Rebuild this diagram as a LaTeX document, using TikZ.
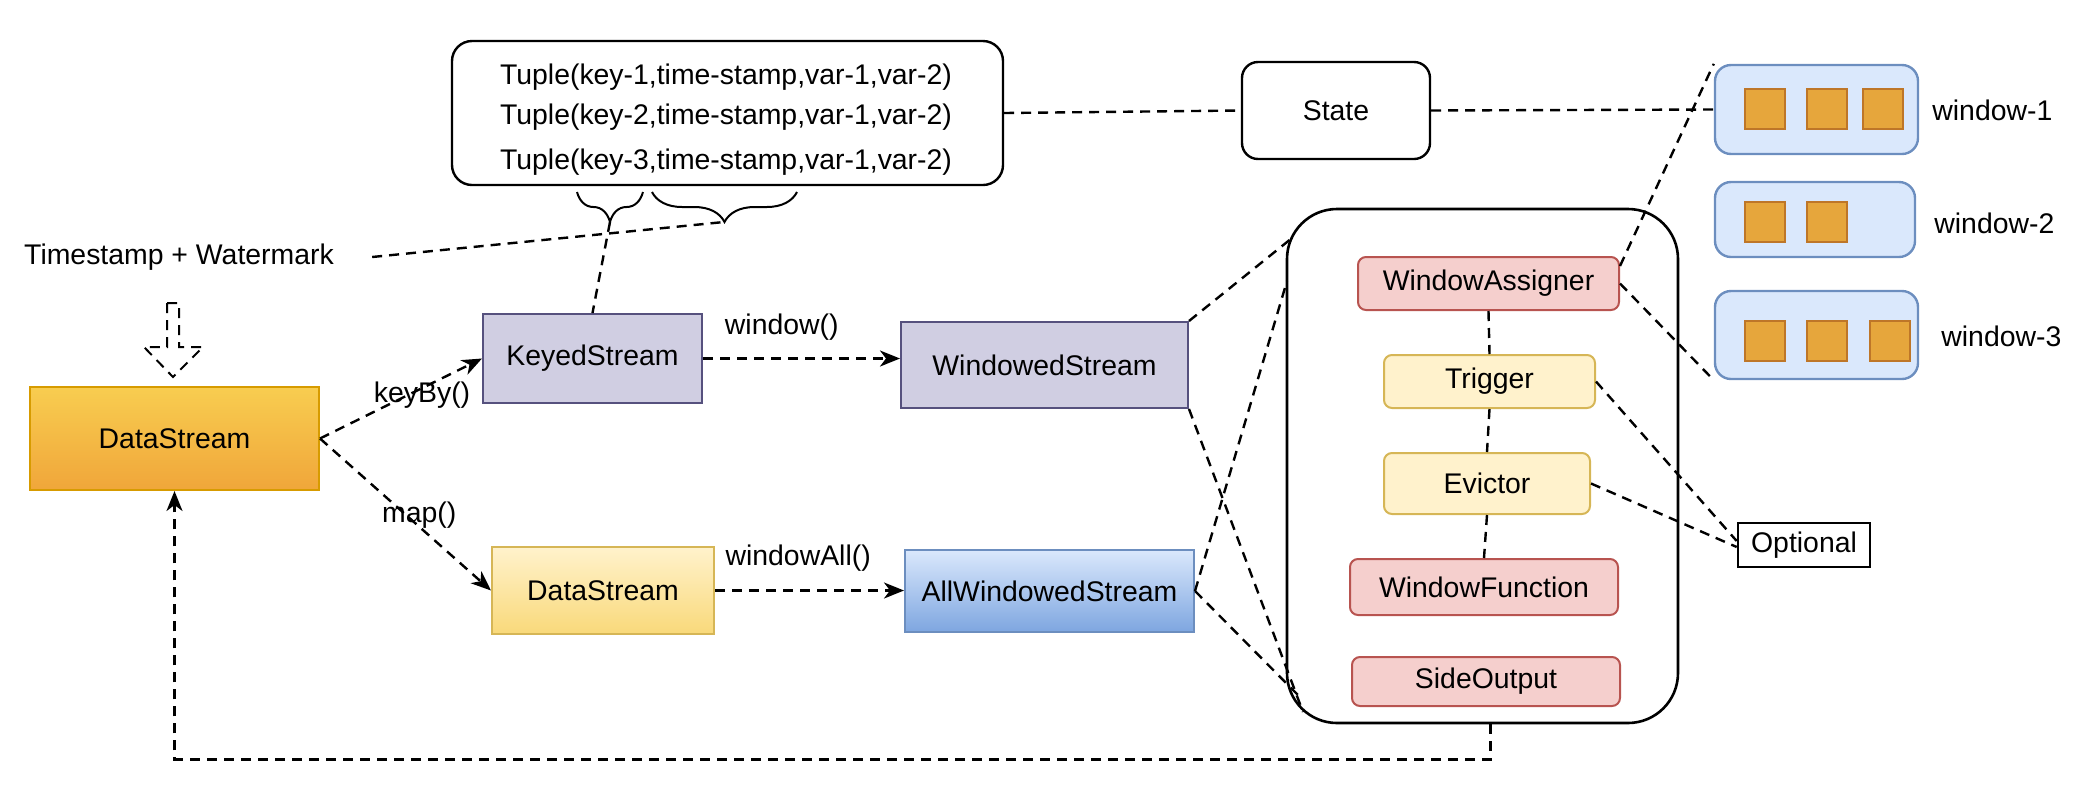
\documentclass[tikz,border=0pt]{standalone}
\usepackage{fontspec}
\setmainfont{Liberation Sans}
\usepackage{tikz}
\usetikzlibrary{arrows.meta,positioning,decorations.pathreplacing}
\usepackage{xcolor}
\definecolor{dsorangetop}{RGB}{248,205,80}
\definecolor{dsorangebot}{RGB}{240,166,58}
\definecolor{dsorangeline}{RGB}{215,155,0}
\definecolor{keyedfill}{RGB}{208,206,226}
\definecolor{keyedline}{RGB}{86,81,126}
\definecolor{dsyellowtop}{RGB}{255,242,204}
\definecolor{dsyellowbot}{RGB}{249,217,122}
\definecolor{dsyellowline}{RGB}{214,182,86}
\definecolor{allwintop}{RGB}{218,232,252}
\definecolor{allwinbot}{RGB}{126,166,224}
\definecolor{winline}{RGB}{108,142,191}
\definecolor{redfill}{RGB}{245,207,205}
\definecolor{redline}{RGB}{184,84,80}
\definecolor{yellowfill}{RGB}{255,242,204}
\definecolor{itemfill}{RGB}{230,166,60}
\definecolor{itemline}{RGB}{190,118,40}
\newcommand{\diagfont}{\fontsize{14.2pt}{17pt}\selectfont}
\tikzstyle{txt} = [inner sep=0pt, font=\diagfont]
\tikzstyle{stream} = [rectangle, inner sep=0pt, text centered, line width=1pt, font=\diagfont]
\tikzstyle{tuplebox} = [rectangle, rounded corners=10pt, draw=black, line width=1.2pt]
\tikzstyle{statebox} = [rectangle, rounded corners=8pt, draw=black, line width=1.2pt, font=\diagfont]
\tikzstyle{winbox} = [rectangle, rounded corners=8pt, draw=winline, fill=allwintop, line width=1.2pt]
\tikzstyle{item} = [rectangle, minimum width=20pt, minimum height=20pt, draw=itemline, fill=itemfill, line width=1pt]
\tikzstyle{container} = [rectangle, rounded corners=25pt, draw=black, line width=1.3pt]
\tikzstyle{redpart} = [rectangle, rounded corners=4pt, inner sep=0pt, draw=redline, fill=redfill, line width=1pt, font=\diagfont]
\tikzstyle{yellowpart} = [rectangle, rounded corners=4pt, inner sep=0pt, draw=dsyellowline, fill=yellowfill, line width=1pt, font=\diagfont]
\tikzstyle{link} = [line width=1.2pt, dash pattern=on 5pt off 3.5pt]
\tikzstyle{arrow} = [link, -{Stealth[length=10pt,width=8pt,inset=3pt]}]

\begin{document}
\begin{tikzpicture}[x=0.5pt, y=-0.5pt]
\useasboundingbox (0,0) rectangle (2090,794);

% Tuples and state
\node[tuplebox, minimum width=275.5pt, minimum height=72pt] (tuples) at (727.5,113) {};
\node[txt] (tup1) at (726,77) {Tuple(key-1,time-stamp,var-1,var-2)};
\node[txt] (tup2) at (726,117) {Tuple(key-2,time-stamp,var-1,var-2)};
\node[txt] (tup3) at (726,162) {Tuple(key-3,time-stamp,var-1,var-2)};
\node[statebox, minimum width=94pt, minimum height=48.5pt] (state) at (1336,110.5) {State};

% Braces under the tuples
\draw[line width=1pt, decorate, decoration={brace, mirror, amplitude=15pt}] (577,192) -- (643,192);
\draw[line width=1pt, decorate, decoration={brace, mirror, amplitude=15pt}] (652,192) -- (797,192);
\coordinate (ktip) at (610,222);
\coordinate (ttip) at (724,222);

% Windows
\node[winbox, minimum width=101.5pt, minimum height=44.5pt] (win1) at (1816.5,109.5) {};
\node[item] (w1a) at (1765,109) {};
\node[item] (w1b) at (1827,109) {};
\node[item] (w1c) at (1882.5,109) {};
\node[txt, anchor=west] (win1lbl) at (1932,110) {window-1};
\node[winbox, minimum width=100pt, minimum height=37.5pt] (win2) at (1815,219.5) {};
\node[item] (w2a) at (1765,221.5) {};
\node[item] (w2b) at (1827,221.5) {};
\node[txt, anchor=west] (win2lbl) at (1934,223) {window-2};
\node[winbox, minimum width=101.5pt, minimum height=44pt] (win3) at (1816.5,335) {};
\node[item] (w3a) at (1765,341) {};
\node[item] (w3b) at (1827,341) {};
\node[item] (w3c) at (1890,341) {};
\node[txt, anchor=west] (win3lbl) at (1941,336) {window-3};

% Timestamp + Watermark
\node[txt] (tsw) at (179,257) {Timestamp + Watermark};
\draw[line width=1pt, dash pattern=on 5pt off 3.5pt] (167,303) -- (179,303) -- (179,347) -- (203,347) -- (173,377) -- (144,347) -- (167,347) -- cycle;

% Streams
\node[stream, top color=dsorangetop, bottom color=dsorangebot, draw=dsorangeline, minimum width=144.5pt, minimum height=51.5pt] (ds) at (174.5,438.5) {DataStream};
\node[stream, fill=keyedfill, draw=keyedline, minimum width=109.5pt, minimum height=44.5pt] (keyed) at (592.5,358.5) {KeyedStream};
\node[stream, fill=keyedfill, draw=keyedline, minimum width=143.5pt, minimum height=43pt] (windowed) at (1044.5,365) {WindowedStream};
\node[stream, top color=dsyellowtop, bottom color=dsyellowbot, draw=dsyellowline, minimum width=111pt, minimum height=43.5pt] (ds2) at (603,590.5) {DataStream};
\node[stream, top color=allwintop, bottom color=allwinbot, draw=winline, minimum width=144.5pt, minimum height=41pt] (allwin) at (1049.5,591) {AllWindowedStream};

% Window operator
\node[container, minimum width=195.5pt, minimum height=257pt] (box) at (1482.5,466) {};
\node[redpart, minimum width=130.5pt, minimum height=26.5pt] (assigner) at (1488.5,283.5) {WindowAssigner};
\node[yellowpart, minimum width=105.5pt, minimum height=26.5pt] (trigger) at (1489.5,381.5) {Trigger};
\node[yellowpart, minimum width=103pt, minimum height=30.5pt] (evictor) at (1487,483.5) {Evictor};
\node[redpart, minimum width=134pt, minimum height=28pt] (wfunc) at (1484,587) {WindowFunction};
\node[redpart, minimum width=134pt, minimum height=24.5pt] (sideout) at (1486,681.5) {SideOutput};
\node[rectangle, draw=black, line width=1.3pt, inner sep=0pt, minimum width=66pt, minimum height=22pt, font=\diagfont] (optional) at (1804,545) {Optional};
\coordinate (c1) at (1292,238);
\coordinate (c2) at (1303,712);
\coordinate (c3) at (1287,281);
\coordinate (c4) at (1298,695);

% Arrows
\draw[arrow] (ds.east) -- node[txt, pos=0.63, yshift=-3.5pt] (keybylbl) {keyBy()} (keyed.west);
\draw[arrow] (ds.east) -- node[txt, pos=0.58, yshift=6pt] (maplbl) {map()} (ds2.west);
\draw[arrow] (keyed.east) -- node[txt, pos=0.4, yshift=15.5pt] (windowlbl) {window()} (keyed.east -| windowed.west);
\draw[arrow] (ds2.east) -- node[txt, pos=0.44, yshift=16pt] (windowalllbl) {windowAll()} (ds2.east -| allwin.west);
\draw[arrow] ([xshift=4pt]box.south) -- ++(0,35) -| (ds.south);

% Dashed links
\draw[link] (tuples.east) -- (state.west);
\draw[link] (state.east) -- (win1.west);
\draw[link] ([xshift=19pt]tsw.east) -- (ttip);
\draw[link] (ktip) -- (keyed.north);
\draw[link] (windowed.north east) -- (c1);
\draw[link] (windowed.south east) -- (c2);
\draw[link] (allwin.east) -- (c3);
\draw[link] (allwin.east) -- (c4);
\draw[link] (assigner.south) -- (trigger.north);
\draw[link] (trigger.south) -- (evictor.north);
\draw[link] (evictor.south) -- (wfunc.north);
\draw[link] ([yshift=-5pt]assigner.north east) -- (win1.north west);
\draw[link] (assigner.east) -- (win3.south west);
\draw[link] (trigger.east) -- ([yshift=2pt]optional.west);
\draw[link] (evictor.east) -- ([yshift=-1pt]optional.west);
\end{tikzpicture}
\end{document}
